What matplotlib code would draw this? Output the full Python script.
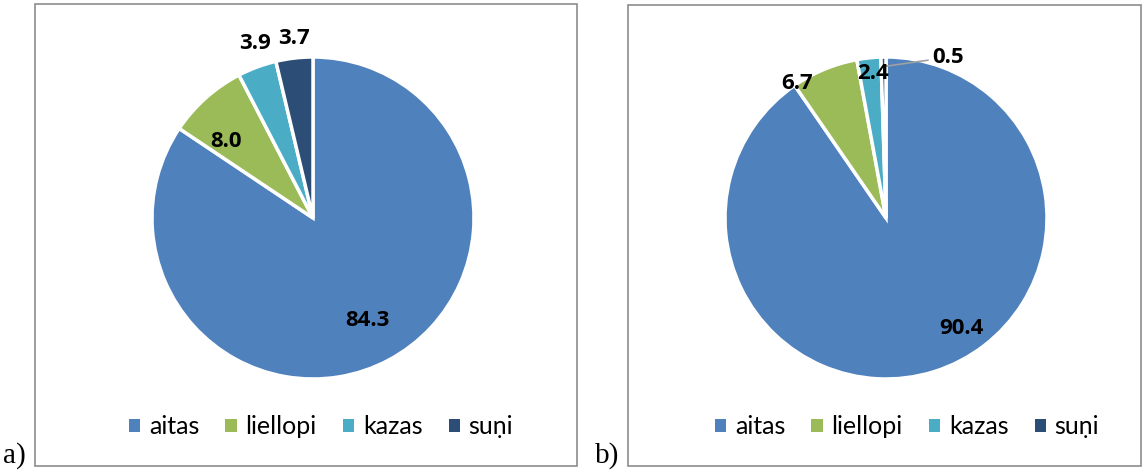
import matplotlib
matplotlib.use("Agg")
import matplotlib.pyplot as plt
from matplotlib.patches import Rectangle
import numpy as np

# Livestock shares (%), two periods
categories = ["aitas", "liellopi", "kazas", "su\u1e47i"]
values_a = [84.3, 8.0, 3.9, 3.7]
values_b = [90.4, 6.7, 2.4, 0.5]
panel_tags = ["a)", "b)"]

colors = ["#4F81BD", "#9BBB59", "#4BACC6", "#2C4D75"]

# label placement per slice: (distance from centre in radii, angle shift in degrees)
label_pos_a = [(0.72, 0.0), (0.72, 7.0), (1.14, -2.0), (1.12, -0.5)]
label_pos_b = [(0.83, 17.0), (1.0, 11.0), (0.9, -1.0), (1.07, -22.0)]

W, H = 1143, 470
fig = plt.figure(figsize=(W / 100, H / 100), dpi=100)

R = 161  # pie radius in pixels
half = 1.2


def px_axes(cx, cy):
    # axes box so the pie (radius 1) is centred at pixel (cx, cy), cy from top
    s = 2 * half * R
    return [(cx - s / 2) / W, (H - cy - s / 2) / H, s / W, s / H]


def draw_panel(center, values, label_pos, box, legend_x, tag_x):
    ax = fig.add_axes(px_axes(*center))
    wedges, _ = ax.pie(values, colors=colors, startangle=90, counterclock=False,
                       wedgeprops=dict(edgecolor="white", linewidth=2.5))
    ax.set_xlim(-half, half)
    ax.set_ylim(-half, half)
    ax.set_aspect("equal")
    ax.axis("off")
    for w, v, (dist, shift) in zip(wedges, values, label_pos):
        ang = np.deg2rad((w.theta1 + w.theta2) / 2 + shift)
        ax.text(dist * np.cos(ang), dist * np.sin(ang), f"{v:.1f}",
                ha="center", va="center", fontsize=16, fontweight="bold",
                family="Open Sans", color="black", clip_on=False)
    # frame round each chart
    x0, y0, x1, y1 = box
    fig.add_artist(Rectangle((x0 / W, (H - y1) / H), (x1 - x0) / W, (y1 - y0) / H,
                             transform=fig.transFigure, fill=False,
                             edgecolor="#8C8C8C", linewidth=1.2))
    handles = [Rectangle((0, 0), 1, 1, facecolor=c) for c in colors]
    fig.legend(handles, categories, loc="center", ncol=4,
               bbox_to_anchor=(legend_x / W, (H - 427) / H), frameon=False,
               prop=dict(family="Lato", size=18), handlelength=0.45,
               handleheight=0.45, handletextpad=0.35, columnspacing=1.05)
    fig.text(tag_x / W, (H - 456) / H, panel_tags.pop(0), family="Liberation Serif",
             fontsize=21, ha="left", va="center")
    return ax


ax_a = draw_panel((313, 218), values_a, label_pos_a, (35, 4, 577, 466), 321, 3)
ax_b = draw_panel((886, 218), values_b, label_pos_b, (628, 5, 1141, 466), 907, 595)

# leader line for the smallest slice in b)
ax_b.plot([-0.02, 0.26], [0.94, 0.98], color="#A0A0A0", linewidth=1.2, clip_on=False)

fig.savefig("out.png", dpi=100)
